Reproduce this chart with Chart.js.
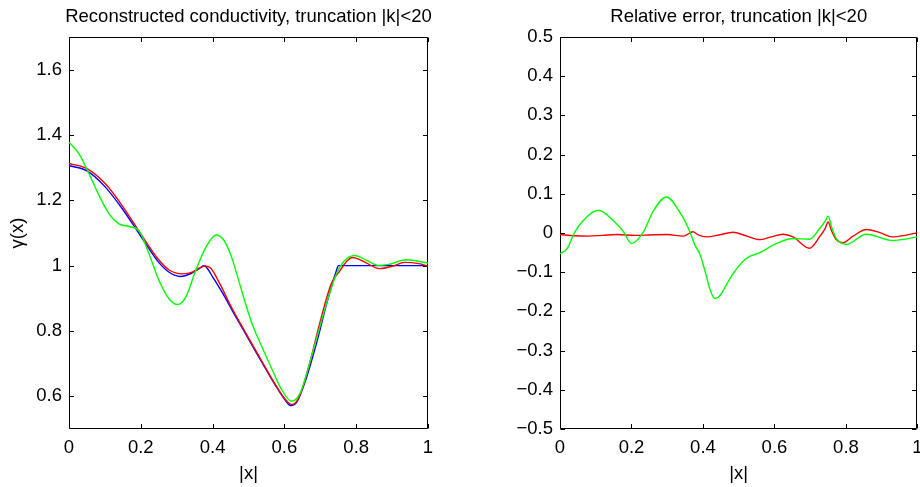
<!DOCTYPE html>
<html><head><meta charset="utf-8">
<script src="https://cdn.jsdelivr.net/npm/chart.js@4/dist/chart.umd.min.js"></script>
<style>
html,body{margin:0;padding:0;background:#fff;overflow:hidden;width:920px;height:487px;position:relative}
#c1{position:absolute;left:0;top:0;width:480px;height:487px}
#c2{position:absolute;left:460px;top:0;width:470px;height:487px}
</style></head><body>
<canvas id="c1" width="480" height="487"></canvas>
<canvas id="c2" width="470" height="487"></canvas>
<script>
// ---------- data ----------
const xTicks = [0, 0.2, 0.4, 0.6, 0.8, 1];
const xTickLabels = ['0', '0.2', '0.4', '0.6', '0.8', '1'];
const gammaTicks = [0.6, 0.8, 1, 1.2, 1.4, 1.6];
const gammaTickLabels = ['0.6', '0.8', '1', '1.2', '1.4', '1.6'];
const errTicks = [-0.5, -0.4, -0.3, -0.2, -0.1, 0, 0.1, 0.2, 0.3, 0.4, 0.5];
const errTickLabels = ['\u22120.5', '\u22120.4', '\u22120.3', '\u22120.2', '\u22120.1', '0', '0.1', '0.2', '0.3', '0.4', '0.5'];

// true conductivity (blue)
const trueX = [0, 0.05, 0.1, 0.15, 0.2, 0.25, 0.28, 0.31, 0.34, 0.36, 0.368, 0.375, 0.385, 0.4, 0.43, 0.46, 0.49, 0.52, 0.55, 0.58, 0.6, 0.617, 0.635, 0.66, 0.69, 0.72, 0.745, 0.75, 0.8, 0.9, 1];
const trueY = [1.306, 1.290, 1.242, 1.172, 1.090, 1.010, 0.979, 0.967, 0.976, 0.989, 0.995, 1.000, 0.992, 0.966, 0.912, 0.852, 0.795, 0.737, 0.680, 0.625, 0.592, 0.572, 0.583, 0.652, 0.765, 0.893, 0.985, 1.000, 1.000, 1.000, 1.000];

// reconstruction (red)
const redX = [0, 0.05, 0.1, 0.15, 0.2, 0.25, 0.28, 0.315, 0.345, 0.365, 0.38, 0.395, 0.42, 0.45, 0.48, 0.51, 0.54, 0.57, 0.6, 0.62, 0.64, 0.67, 0.7, 0.73, 0.755, 0.775, 0.79, 0.82, 0.865, 0.9, 0.935, 0.97, 1];
const redY = [1.313, 1.297, 1.252, 1.181, 1.097, 1.018, 0.986, 0.975, 0.981, 0.994, 0.999, 0.992, 0.945, 0.878, 0.818, 0.760, 0.702, 0.645, 0.594, 0.575, 0.595, 0.700, 0.830, 0.943, 0.985, 1.015, 1.025, 1.013, 0.991, 0.998, 1.010, 1.007, 0.999];

// reconstruction (green)
const greenX = [0, 0.028, 0.056, 0.084, 0.112, 0.139, 0.167, 0.195, 0.223, 0.251, 0.279, 0.302, 0.325, 0.353, 0.381, 0.41, 0.43, 0.45, 0.47, 0.49, 0.51, 0.54, 0.57, 0.59, 0.62, 0.645, 0.68, 0.717, 0.745, 0.765, 0.796, 0.829, 0.86, 0.89, 0.94, 1];
const greenY = [1.378, 1.342, 1.281, 1.214, 1.158, 1.128, 1.120, 1.107, 1.036, 0.954, 0.898, 0.881, 0.903, 0.985, 1.056, 1.094, 1.080, 1.035, 0.965, 0.890, 0.822, 0.745, 0.672, 0.625, 0.585, 0.613, 0.740, 0.883, 0.975, 1.012, 1.031, 1.016, 1.001, 1.004, 1.018, 1.008];

// relative error (red)
const errRedX = [0, 0.04, 0.08, 0.12, 0.16, 0.21, 0.25, 0.3, 0.345, 0.372, 0.385, 0.41, 0.445, 0.484, 0.52, 0.559, 0.59, 0.624, 0.652, 0.698, 0.726, 0.742, 0.75, 0.76, 0.773, 0.791, 0.82, 0.857, 0.895, 0.931, 0.965, 1];
const errRedY = [-0.004, -0.007, -0.008, -0.006, -0.004, -0.006, -0.005, -0.004, -0.008, 0.003, -0.004, -0.010, -0.005, 0.002, -0.007, -0.017, -0.010, -0.003, -0.010, -0.039, -0.010, 0.012, 0.028, 0.005, -0.017, -0.025, -0.008, 0.009, 0.001, -0.010, -0.006, 0.001];

// relative error (green)
const errGreenX = [0, 0.02, 0.04, 0.065, 0.107, 0.149, 0.177, 0.2, 0.233, 0.261, 0.298, 0.335, 0.363, 0.377, 0.391, 0.405, 0.42, 0.433, 0.447, 0.465, 0.484, 0.521, 0.559, 0.605, 0.652, 0.698, 0.726, 0.742, 0.75, 0.76, 0.773, 0.801, 0.857, 0.931, 1];
const errGreenY = [-0.053, -0.040, 0.0, 0.032, 0.058, 0.032, 0.004, -0.027, 0.002, 0.056, 0.092, 0.053, 0.004, -0.030, -0.053, -0.095, -0.145, -0.167, -0.160, -0.133, -0.104, -0.065, -0.050, -0.027, -0.014, -0.016, 0.011, 0.030, 0.043, 0.015, -0.014, -0.029, -0.003, -0.019, -0.010];

// ---------- chart setup ----------
const FONT = 18.5;
Chart.defaults.font.family = '"Liberation Sans", Arial, Helvetica, sans-serif';
Chart.defaults.font.size = FONT;
Chart.defaults.color = '#000';

const pts = (xs, ys) => xs.map((x, i) => ({x: x, y: ys[i]}));
const fmt = (v, vals, labels) => {
  const i = vals.findIndex(t => Math.abs(t - v) < 1e-9);
  return i >= 0 ? labels[i] : '';
};
const line = (data, color) => ({
  data: data, borderColor: color, backgroundColor: color, borderWidth: 1.4,
  pointRadius: 0, fill: false, cubicInterpolationMode: 'monotone'
});

const boxTicks = {
  id: 'boxTicks',
  beforeDatasetsDraw(chart) {
    const {ctx, chartArea: a, scales} = chart;
    const L = Math.round(a.left) + 0.5, R = Math.round(a.right) - 0.5;
    const T = Math.round(a.top) + 0.5, B = Math.round(a.bottom) - 0.5;
    const len = 4.5;
    ctx.save();
    ctx.strokeStyle = '#000';
    ctx.lineWidth = 1;
    ctx.beginPath();
    ctx.rect(L, T, R - L, B - T);
    scales.x.ticks.forEach(t => {
      const p = Math.round(scales.x.getPixelForValue(t.value)) + 0.5;
      ctx.moveTo(p, B); ctx.lineTo(p, B - len);
      ctx.moveTo(p, T); ctx.lineTo(p, T + len);
    });
    scales.y.ticks.forEach(t => {
      const p = Math.round(scales.y.getPixelForValue(t.value)) + 0.5;
      ctx.moveTo(L, p); ctx.lineTo(L + len, p);
      ctx.moveTo(R, p); ctx.lineTo(R - len, p);
    });
    ctx.stroke();
    ctx.restore();
  }
};

const centerTitle = {
  id: 'centerTitle',
  afterLayout(chart) {
    const t = chart.titleBlock;
    if (!t) return;
    const cx = (chart.chartArea.left + chart.chartArea.right) / 2;
    t.left = cx - 300;
    t.right = cx + 300;
  }
};

function makeOptions(cfg) {
  return {
    responsive: false, animation: false, devicePixelRatio: 1,
    layout: {padding: {left: 0, right: cfg.padRight, top: 0, bottom: 0}},
    plugins: {
      legend: {display: false}, tooltip: {enabled: false},
      title: {display: true, text: cfg.title, color: '#000',
        font: {size: FONT, weight: 'normal'}, padding: {top: 5.5, bottom: 9.3}}
    },
    scales: {
      x: {
        type: 'linear', min: 0, max: 1,
        afterBuildTicks: s => { s.ticks = xTicks.map(v => ({value: v})); },
        afterFit: s => { s.height = 58; },
        grid: {display: false, drawTicks: false}, border: {display: false},
        ticks: {padding: 7.4, maxRotation: 0, autoSkip: false, color: '#000',
          callback: v => fmt(v, xTicks, xTickLabels)},
        title: {display: true, text: '|x|', color: '#000', font: {size: FONT}, padding: {top: 0, bottom: 1.9}}
      },
      y: {
        type: 'linear', min: cfg.yMin, max: cfg.yMax,
        afterBuildTicks: s => { s.ticks = cfg.yTicks.map(v => ({value: v})); },
        afterFit: s => { s.width = cfg.yWidth; },
        grid: {display: false, drawTicks: false}, border: {display: false},
        ticks: {padding: 7, autoSkip: false, color: '#000',
          callback: v => fmt(v, cfg.yTicks, cfg.yLabels)},
        title: {display: !!cfg.yTitle, text: cfg.yTitle || '', color: '#000', font: {size: FONT}, padding: {top: 7.2, bottom: 0}}
      }
    }
  };
}

new Chart(document.getElementById('c1'), {
  type: 'line',
  data: {datasets: [
    line(pts(greenX, greenY), '#00ff00'),
    line(pts(redX, redY), '#ff0000'),
    line(pts(trueX, trueY), '#0000ff')
  ]},
  options: makeOptions({title: 'Reconstructed conductivity, truncation |k|<20',
    yMin: 0.5, yMax: 1.7, yTicks: gammaTicks, yLabels: gammaTickLabels,
    yTitle: '\u03b3(x)', yWidth: 69, padRight: 52}),
  plugins: [boxTicks, centerTitle]
});

new Chart(document.getElementById('c2'), {
  type: 'line',
  data: {datasets: [
    line(pts(errGreenX, errGreenY), '#00ff00'),
    line(pts(errRedX, errRedY), '#ff0000')
  ]},
  options: makeOptions({title: 'Relative error, truncation |k|<20',
    yMin: -0.5, yMax: 0.5, yTicks: errTicks, yLabels: errTickLabels,
    yTitle: '', yWidth: 100, padRight: 12}),
  plugins: [boxTicks, centerTitle]
});
</script>
</body></html>
